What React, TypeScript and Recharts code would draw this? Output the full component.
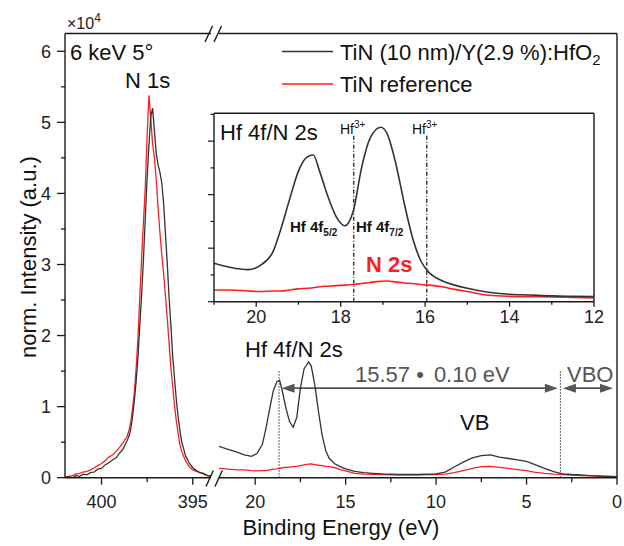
import React from "react"
import { LineChart, Line, XAxis, YAxis, ReferenceLine } from "recharts"

// N 1s region (binding energy, eV) and intensities (x10^4)
const n1sEnergy = [
    402.0, 401.8, 401.6, 401.4, 401.2, 401.0, 400.8, 400.6, 400.4, 400.2, 400.0, 399.8, 399.6, 399.4, 399.2, 399.0, 398.8, 398.6,
    398.5, 398.4, 398.3, 398.2, 398.1, 398.0, 397.9, 397.8, 397.7, 397.6, 397.5, 397.4, 397.3, 397.2, 397.1, 397.0,
    396.9, 396.8, 396.7, 396.6, 396.5, 396.4, 396.3, 396.2, 396.1, 396.0, 395.9, 395.8, 395.7, 395.6, 395.5,
    395.4, 395.2, 395.0, 394.8, 394.6, 394.4, 394.2, 394.0,
]
const n1sSample = [
    0.0, 0.01, 0.0, 0.03, 0.02, 0.05, 0.04, 0.07, 0.08, 0.12, 0.13, 0.18, 0.21, 0.25, 0.28, 0.35, 0.41, 0.52,
    0.58, 0.68, 0.86, 1.08, 1.36, 1.7, 2.15, 2.58, 3.08, 3.66, 4.22, 4.68, 5.08, 5.2, 4.88, 4.56,
    4.4, 4.3, 4.15, 3.87, 3.45, 3.03, 2.55, 2.15, 1.72, 1.4, 1.1, 0.85, 0.66, 0.5, 0.41,
    0.31, 0.21, 0.14, 0.1, 0.07, 0.06, 0.03, 0.02,
]
const n1sReference = [
    0.01, 0.02, 0.03, 0.05, 0.06, 0.08, 0.09, 0.11, 0.14, 0.17, 0.2, 0.24, 0.29, 0.32, 0.37, 0.43, 0.5, 0.58,
    0.66, 0.78, 0.97, 1.2, 1.55, 1.98, 2.55, 3.1, 3.6, 4.1, 4.8, 5.38, 5.05, 4.7, 4.5, 4.2,
    3.8, 3.45, 3.15, 2.88, 2.57, 2.25, 1.9, 1.56, 1.28, 1.02, 0.8, 0.62, 0.46, 0.37, 0.3,
    0.24, 0.16, 0.11, 0.09, 0.07, 0.05, 0.03, 0.02,
]

// Hf 4f / N 2s / valence band region
const vbEnergy = [
    22.0, 21.5, 21.0, 20.6, 20.2, 19.9, 19.6, 19.4, 19.2, 19.0, 18.8, 18.65, 18.5, 18.3, 18.1, 17.9, 17.7, 17.5, 17.3,
    17.05, 16.9, 16.7, 16.5, 16.3, 16.1, 15.9, 15.6, 15.3, 15.0, 14.5, 14.0, 13.5, 13.0, 12.5, 12.0, 11.0, 10.0,
    9.5, 9.0, 8.5, 8.0, 7.5, 7.0, 6.5, 6.0, 5.5, 5.0, 4.5, 4.0, 3.5, 3.0, 2.5, 2.0, 1.5, 1.0, 0.5, 0.0,
]
const vbSample = [
    0.44, 0.4, 0.36, 0.32, 0.3, 0.34, 0.47, 0.7, 0.97, 1.22, 1.35, 1.37, 1.22, 0.98, 0.79, 0.71, 0.85, 1.26, 1.53,
    1.63, 1.57, 1.3, 0.93, 0.6, 0.38, 0.27, 0.195, 0.155, 0.125, 0.088, 0.07, 0.062, 0.054, 0.05, 0.047, 0.045, 0.055,
    0.08, 0.15, 0.22, 0.28, 0.31, 0.32, 0.29, 0.27, 0.25, 0.23, 0.18, 0.13, 0.085, 0.055, 0.045, 0.04, 0.03, 0.025, 0.02, 0.015,
]
const vbReference = [
    0.13, 0.12, 0.11, 0.11, 0.1, 0.095, 0.1, 0.1, 0.11, 0.12, 0.125, 0.13, 0.14, 0.145, 0.15, 0.155, 0.16, 0.17, 0.18,
    0.19, 0.193, 0.185, 0.175, 0.17, 0.16, 0.155, 0.14, 0.115, 0.095, 0.06, 0.05, 0.047, 0.045, 0.04, 0.035, 0.04, 0.045,
    0.05, 0.07, 0.1, 0.13, 0.155, 0.16, 0.145, 0.13, 0.115, 0.1, 0.075, 0.06, 0.05, 0.045, 0.035, 0.03, 0.025, 0.02, 0.018, 0.015,
]

const intensityTicks = [0, 0.5, 1, 1.5, 2, 2.5, 3, 3.5, 4, 4.5, 5, 5.5, 6]
const n1sTicks = [400, 397.5, 395]
const vbTicks = [20, 17.5, 15, 12.5, 10, 7.5, 5, 2.5, 0]
const insetTicks = [21, 20, 19, 18, 17, 16, 15, 14, 13, 12]
const insetIntensityTicks = [0, 0.25, 0.5, 0.75, 1, 1.25, 1.5, 1.75]

const hf4f52Peak = 18.68
const vbMaximum = 3.13
const hf3Markers = [17.69, 15.96]

const toRows = (xs: number[], vs: number[]) => xs.map((e, i) => ({ e, v: vs[i] }))
const n1sSampleRows = toRows(n1sEnergy, n1sSample)
const n1sReferenceRows = toRows(n1sEnergy, n1sReference)
const vbSampleRows = toRows(vbEnergy, vbSample)
const vbReferenceRows = toRows(vbEnergy, vbReference)
const insetSampleRows = vbSampleRows.filter((r) => r.e <= 21 && r.e >= 12)
const insetReferenceRows = vbReferenceRows.filter((r) => r.e <= 21 && r.e >= 12)

const BLACK = "#333333"
const RED = "#ff1e1e"
const AXIS = "#1a1a1a"
const GREY = "#555555"
const FONT = "'Liberation Sans', Arial, sans-serif"

const AXIS_Y = 477.7

const YTick = (props: any) => {
    const { y, payload } = props
    const major = Number.isInteger(payload.value)
    return (
        <g>
            <line x1={65} x2={major ? 57 : 61} y1={y} y2={y} stroke={AXIS} strokeWidth={1.3} />
            {major && (
                <text x={51} y={y + 6.5} textAnchor="end" fontSize={18} fontFamily={FONT} fill="#222">
                    {payload.value}
                </text>
            )}
        </g>
    )
}

const xTick = (axisY: number, isMajor: (v: number) => boolean, len: number[], labelY: number, fs: number) =>
    (props: any) => {
        const { x, payload } = props
        const major = isMajor(payload.value)
        return (
            <g>
                <line x1={x} x2={x} y1={axisY} y2={axisY + (major ? len[0] : len[1])} stroke={AXIS} strokeWidth={1.3} />
                {major && (
                    <text x={x} y={labelY} textAnchor="middle" fontSize={fs} fontFamily={FONT} fill="#222">
                        {payload.value}
                    </text>
                )}
            </g>
        )
    }

const InsetYTick = (props: any) => {
    const { y, payload } = props
    const major = Math.abs(payload.value * 2 - Math.round(payload.value * 2)) < 1e-6
    return <line x1={14} x2={major ? 8 : 10.5} y1={y} y2={y} stroke={AXIS} strokeWidth={1.2} />
}

const arrowShape = (gapL: number, gapR: number) => (p: any) => {
    const xa = Math.min(p.x1, p.x2) + gapL
    const xb = Math.max(p.x1, p.x2) - gapR
    const y = p.y1
    return (
        <g>
            <line x1={xa + 8} x2={xb - 8} y1={y} y2={y} stroke={GREY} strokeWidth={1.6} />
            <polygon points={`${xa},${y} ${xa + 13},${y - 4.5} ${xa + 13},${y + 4.5}`} fill={GREY} />
            <polygon points={`${xb},${y} ${xb - 13},${y - 4.5} ${xb - 13},${y + 4.5}`} fill={GREY} />
        </g>
    )
}

export default function App() {
    const frame = { stroke: AXIS, strokeWidth: 1.4 }
    return (
        <div style={{ position: "absolute", left: 0, top: 0, width: 624, height: 546, background: "#fff", overflow: "hidden" }}>
            {/* N 1s panel */}
            <div style={{ position: "absolute", left: 0, top: 0 }}>
                <LineChart width={211} height={546} margin={{ top: 33.5, right: 0, bottom: 0, left: 0 }}>
                    <XAxis
                        type="number"
                        dataKey="e"
                        domain={[394, 402]}
                        reversed
                        allowDataOverflow
                        ticks={n1sTicks}
                        interval={0}
                        height={68.3}
                        tickLine={false}
                        axisLine={frame}
                        tick={xTick(AXIS_Y, (v) => v % 5 === 0, [7, 4.5], 508, 18)}
                    />
                    <YAxis
                        type="number"
                        domain={[0, 6.25]}
                        allowDataOverflow
                        ticks={intensityTicks}
                        interval={0}
                        width={65}
                        tickLine={false}
                        axisLine={frame}
                        tick={YTick}
                    />
                    <ReferenceLine y={6.25} stroke={AXIS} strokeWidth={1.4} />
                    <Line data={n1sReferenceRows} dataKey="v" type="linear" stroke={RED} strokeWidth={1.3} dot={false} isAnimationActive={false} />
                    <Line data={n1sSampleRows} dataKey="v" type="linear" stroke={BLACK} strokeWidth={1.3} dot={false} isAnimationActive={false} />
                </LineChart>
            </div>

            {/* Hf 4f / VB panel */}
            <div style={{ position: "absolute", left: 219, top: 0 }}>
                <LineChart width={405} height={546} margin={{ top: 33.5, right: 7, bottom: 0, left: 0 }}>
                    <XAxis
                        type="number"
                        dataKey="e"
                        domain={[0, 22]}
                        reversed
                        allowDataOverflow
                        ticks={vbTicks}
                        interval={0}
                        height={68.3}
                        tickLine={false}
                        axisLine={frame}
                        tick={xTick(AXIS_Y, (v) => v % 5 === 0, [7, 4.5], 508, 18)}
                    />
                    <YAxis type="number" domain={[0, 6.25]} allowDataOverflow hide />
                    <ReferenceLine y={6.25} stroke={AXIS} strokeWidth={1.4} />
                    <ReferenceLine x={0} stroke={AXIS} strokeWidth={1.4} />
                    <ReferenceLine segment={[{ x: hf4f52Peak, y: 0 }, { x: hf4f52Peak, y: 1.52 }]} stroke={BLACK} strokeWidth={1} strokeDasharray="1.5 1.5" />
                    <ReferenceLine segment={[{ x: vbMaximum, y: 0 }, { x: vbMaximum, y: 1.5 }]} stroke={BLACK} strokeWidth={1} strokeDasharray="1.5 1.5" />
                    <ReferenceLine segment={[{ x: hf4f52Peak, y: 1.26 }, { x: vbMaximum, y: 1.26 }]} shape={arrowShape(2.5, 2.5)} />
                    <ReferenceLine segment={[{ x: vbMaximum, y: 1.26 }, { x: 0, y: 1.26 }]} shape={arrowShape(2.5, 4)} />
                    <Line data={vbReferenceRows} dataKey="v" type="linear" stroke={RED} strokeWidth={1.3} dot={false} isAnimationActive={false} />
                    <Line data={vbSampleRows} dataKey="v" type="linear" stroke={BLACK} strokeWidth={1.3} dot={false} isAnimationActive={false} />
                </LineChart>
            </div>

            {/* inset */}
            <div style={{ position: "absolute", left: 200, top: 100 }}>
                <LineChart width={414} height={230} margin={{ top: 13.3, right: 20, bottom: 0, left: 0 }}>
                    <XAxis
                        type="number"
                        dataKey="e"
                        domain={[12, 21]}
                        reversed
                        allowDataOverflow
                        ticks={insetTicks}
                        interval={0}
                        height={28.3}
                        tickLine={false}
                        axisLine={frame}
                        tick={xTick(201.7, (v) => v % 2 === 0, [5, 3], 223, 18)}
                    />
                    <YAxis
                        type="number"
                        domain={[0, 1.76]}
                        allowDataOverflow
                        ticks={insetIntensityTicks}
                        interval={0}
                        width={14}
                        tickLine={false}
                        axisLine={frame}
                        tick={InsetYTick}
                    />
                    <ReferenceLine y={1.76} stroke={AXIS} strokeWidth={1.4} />
                    <ReferenceLine x={12} stroke={AXIS} strokeWidth={1.4} />
                    {hf3Markers.map((m) => (
                        <ReferenceLine key={m} segment={[{ x: m, y: 0 }, { x: m, y: 1.56 }]} stroke="#111" strokeWidth={1.2} strokeDasharray="4 2 1 2" />
                    ))}
                    <Line data={insetReferenceRows} dataKey="v" type="monotone" stroke={RED} strokeWidth={1.6} dot={false} isAnimationActive={false} />
                    <Line data={insetSampleRows} dataKey="v" type="monotone" stroke={BLACK} strokeWidth={1.6} dot={false} isAnimationActive={false} />
                </LineChart>
            </div>

            {/* annotations */}
            <svg width={624} height={546} style={{ position: "absolute", left: 0, top: 0, pointerEvents: "none" }} fontFamily={FONT}>
                {/* axis breaks */}
                <g stroke={AXIS} strokeWidth={1.4}>
                    <line x1={206} y1={486.5} x2={213.3} y2={470.5} />
                    <line x1={215} y1={486.5} x2={222.3} y2={470.5} />
                    <line x1={205} y1={42} x2={212.5} y2={26} />
                    <line x1={214} y1={42} x2={221.5} y2={26} />
                </g>
                <text x={67} y={29} fontSize={16} fill="#222">
                    ×10<tspan dy={-7} fontSize={12}>4</tspan>
                </text>
                <text x={70} y={60} fontSize={22} fill="#111">6 keV 5°</text>
                <text x={125} y={87.5} fontSize={22} fill="#111">N 1s</text>

                {/* legend */}
                <line x1={282} x2={333} y1={51.5} y2={51.5} stroke={BLACK} strokeWidth={1.4} />
                <text x={340} y={60} fontSize={22} fill="#111">
                    TiN (10 nm)/Y(2.9 %):HfO<tspan dy={5} fontSize={15}>2</tspan>
                </text>
                <line x1={282} x2={333} y1={84} y2={84} stroke={RED} strokeWidth={1.4} />
                <text x={340} y={92} fontSize={22} fill="#111">TiN reference</text>

                {/* inset labels */}
                <text x={220} y={140} fontSize={22} fill="#111">Hf 4f/N 2s</text>
                <text x={340} y={134} fontSize={14} fill="#111">
                    Hf<tspan dy={-6} fontSize={10}>3+</tspan>
                </text>
                <text x={412} y={134} fontSize={14} fill="#111">
                    Hf<tspan dy={-6} fontSize={10}>3+</tspan>
                </text>
                <text x={290} y={231.5} fontSize={15} fontWeight="bold" fill="#111">
                    Hf 4f<tspan dy={4} fontSize={10}>5/2</tspan>
                </text>
                <text x={356} y={231.5} fontSize={15} fontWeight="bold" fill="#111">
                    Hf 4f<tspan dy={4} fontSize={10}>7/2</tspan>
                </text>
                <text x={366} y={271.5} fontSize={22} fontWeight="bold" fill={RED}>N 2s</text>

                {/* main panel labels */}
                <text x={245} y={357} fontSize={22} fill="#111">Hf 4f/N 2s</text>
                <text x={355} y={382} fontSize={22} fill={GREY}>
                    15.57 •<tspan dx={10}>0.10 eV</tspan>
                </text>
                <text x={567} y={382} fontSize={22} fill={GREY}>VBO</text>
                <text x={460} y={430} fontSize={22} fill="#111">VB</text>

                {/* axis titles */}
                <text x={341} y={535} fontSize={22} textAnchor="middle" fill="#111">Binding Energy (eV)</text>
                <text x={0} y={0} fontSize={22} textAnchor="middle" fill="#111" transform="translate(36 257) rotate(-90)">
                    norm. Intensity (a.u.)
                </text>
            </svg>
        </div>
    )
}
